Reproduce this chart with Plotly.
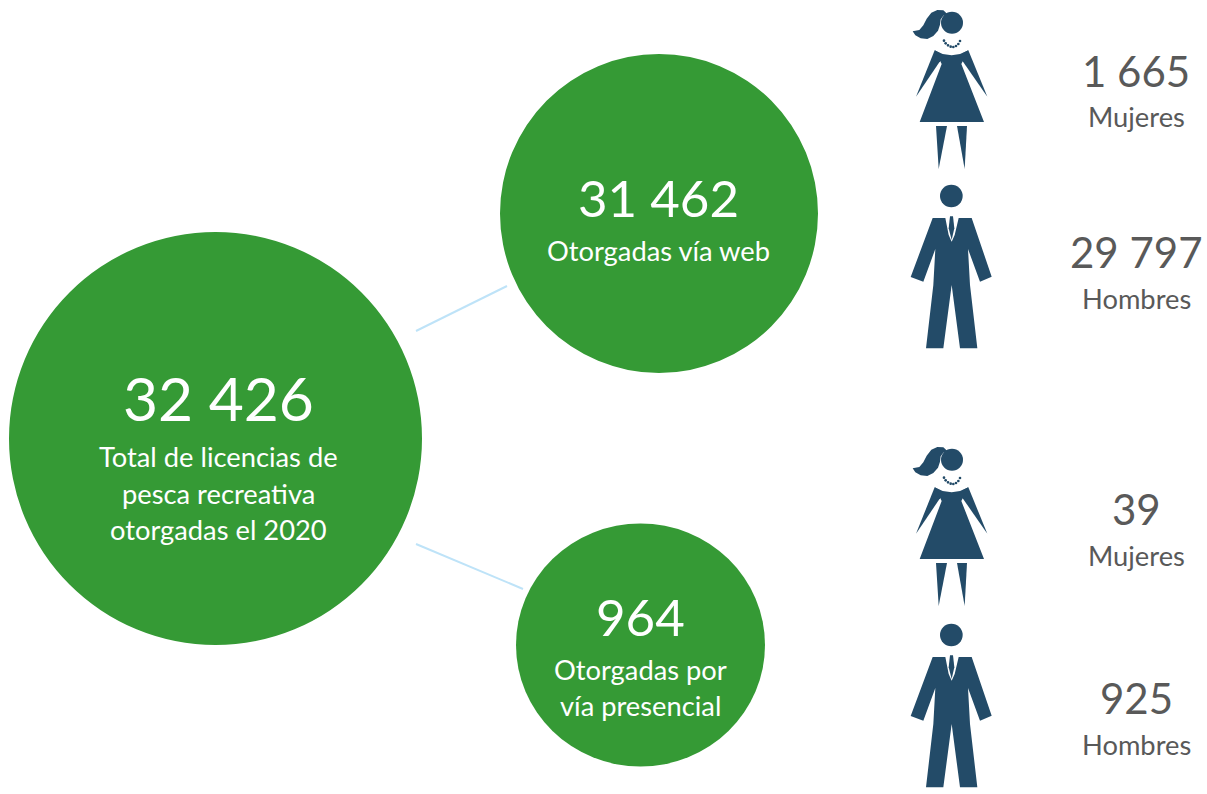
import plotly.graph_objects as go

W, H = 1207, 794
GREEN, NAVY, LINK = "#359A35", "#234B68", "#BEE3F8"
GREY = "#595959"
FONT = "Lato"

# Values and labels
totals = ["32 426", "31 462", "964"]
total_labels = [
    ["Total de licencias de", "pesca recreativa", "otorgadas el 2020"],
    ["Otorgadas vía web"],
    ["Otorgadas por", "vía presencial"],
]
gender_values = ["1 665", "29 797", "39", "925"]
gender_labels = ["Mujeres", "Hombres", "Mujeres", "Hombres"]

# Layout of the infographic (pixels): centre x, centre y, radius x, radius y
circles = [(215.5, 438.5, 206.5, 206.5), (659, 213.5, 159, 159.5), (640.5, 645, 124.5, 121.5)]
links = [(416, 331, 507, 286), (416, 544, 523, 589)]
big_y = [397, 197, 616]
big_size = [60.5, 51, 51]
label_x = [218.5, 658, 640.5]
label_y = [[456, 493, 529], [250], [669, 705]]
gender_x = 1136
gender_value_y = [71, 252, 509, 698]
gender_label_y = [116, 298, 555, 744]
woman_origins = [(890, 0), (890, 437)]
man_origins = [(890, 175), (890, 614)]

shapes = []
annotations = []


def add_text(x, y, text, size, color):
    annotations.append(dict(x=x, y=y, text=text, showarrow=False, xref="x", yref="y",
                            xanchor="center", yanchor="middle",
                            font=dict(family=FONT, size=size, color=color)))


def ellipse(cx, cy, rx, ry, color, ox=0, oy=0, s=1.0):
    shapes.append(dict(type="circle", xref="x", yref="y", layer="below",
                       x0=ox + (cx - rx) * s, x1=ox + (cx + rx) * s,
                       y0=oy + (cy - ry) * s, y1=oy + (cy + ry) * s,
                       fillcolor=color, line=dict(width=0)))


def poly(points, ox, oy, s=1 / 3):
    path = "M" + " L".join(f"{ox + x * s:.2f},{oy + y * s:.2f}" for x, y in points) + " Z"
    shapes.append(dict(type="path", path=path, xref="x", yref="y", layer="below",
                       fillcolor=NAVY, line=dict(width=0)))


def woman(ox, oy):
    s = 1 / 3
    ellipse(186, 68, 33, 33, NAVY, ox, oy, s)
    # ponytail
    poly([(172, 42), (160, 31), (142, 30), (124, 38), (110, 56), (100, 76), (88, 90), (68, 94),
          (76, 106), (92, 115), (112, 117), (130, 108), (144, 92), (150, 74), (152, 58), (160, 47)],
         ox, oy)
    # necklace
    for nx, ny in [(162, 122), (167, 130), (174, 136), (182, 140), (190, 141), (198, 138),
                   (205, 132), (210, 123)]:
        ellipse(nx, ny, 4, 4, NAVY, ox, oy, s)
    # arms and shoulders
    poly([(134, 151), (150, 160), (150, 184), (78, 290)], ox, oy)
    poly([(235, 151), (218, 160), (218, 184), (292, 290)], ox, oy)
    # dress
    poly([(134, 151), (158, 162), (185, 166), (210, 162), (235, 151), (214, 192), (282, 366),
          (89, 366), (155, 192)], ox, oy)
    # legs
    poly([(138, 378), (171, 378), (146, 507)], ox, oy)
    poly([(201, 378), (231, 378), (224, 507)], ox, oy)


def man(ox, oy):
    s = 1 / 3
    ellipse(184, 63, 34, 34, NAVY, ox, oy, s)
    # tie
    poly([(180, 124), (189, 124), (193, 160), (185, 195), (176, 160)], ox, oy)
    # suit
    poly([(128, 129), (166, 129), (176, 180), (185, 200), (194, 180), (206, 129), (245, 129),
          (305, 305), (270, 320), (234, 222), (240, 330), (262, 520), (210, 520), (185, 330),
          (160, 520), (108, 520), (130, 330), (136, 222), (100, 320), (62, 306)], ox, oy)


for x0, y0, x1, y1 in links:
    shapes.append(dict(type="line", xref="x", yref="y", layer="below",
                       x0=x0, y0=y0, x1=x1, y1=y1, line=dict(color=LINK, width=2)))
for cx, cy, rx, ry in circles:
    ellipse(cx, cy, rx, ry, GREEN)
for ox, oy in woman_origins:
    woman(ox, oy)
for ox, oy in man_origins:
    man(ox, oy)

for i, value in enumerate(totals):
    add_text(label_x[i], big_y[i], value, big_size[i], "white")
    for line, y in zip(total_labels[i], label_y[i]):
        add_text(label_x[i], y, line, 27.3, "white")
for value, label, vy, ly in zip(gender_values, gender_labels, gender_value_y, gender_label_y):
    add_text(gender_x, vy, value, 42, GREY)
    add_text(gender_x, ly, label, 27.3, GREY)

fig = go.Figure()
fig.update_layout(
    width=W, height=H, margin=dict(l=0, r=0, t=0, b=0),
    paper_bgcolor="white", plot_bgcolor="white", showlegend=False,
    xaxis=dict(range=[0, W], visible=False, fixedrange=True),
    yaxis=dict(range=[H, 0], visible=False, fixedrange=True),
    shapes=shapes, annotations=annotations,
)
fig.write_html("out.html", post_script="document.body.style.margin='0';document.body.style.overflow='hidden';",
               config=dict(displayModeBar=False))
